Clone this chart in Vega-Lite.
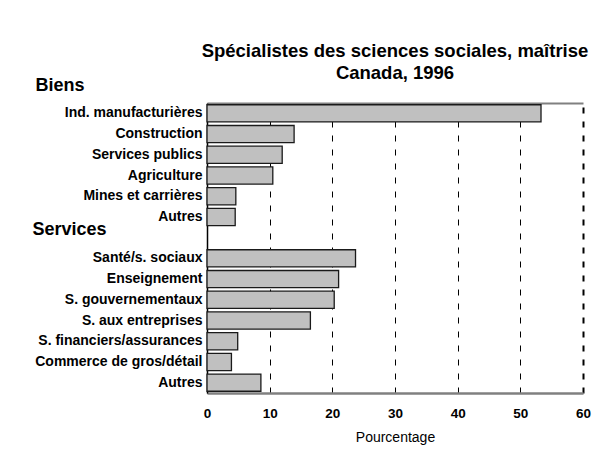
{
  "$schema": "https://vega.github.io/schema/vega-lite/v6.json",
  "autosize": "none",
  "padding": {"left": 207, "top": 103, "right": 17, "bottom": 64},
  "width": 376,
  "height": 290,
  "background": "white",
  "config": {
    "font": "Liberation Sans",
    "view": {"stroke": null}
  },
  "title": {
    "text": ["Spécialistes des sciences sociales, maîtrise", "Canada, 1996"],
    "font": "Liberation Sans",
    "fontSize": 18.5,
    "fontWeight": "bold",
    "color": "black",
    "anchor": "middle",
    "lineHeight": 22,
    "offset": -6
  },
  "data": {
    "values": [
      {"cat": "Ind. manufacturières", "pct": 53.3},
      {"cat": "Construction", "pct": 13.9},
      {"cat": "Services publics", "pct": 12.0},
      {"cat": "Agriculture", "pct": 10.5},
      {"cat": "Mines et carrières", "pct": 4.6},
      {"cat": "Autres (biens)", "pct": 4.5},
      {"cat": "Santé/s. sociaux", "pct": 23.7},
      {"cat": "Enseignement", "pct": 21.0},
      {"cat": "S. gouvernementaux", "pct": 20.3},
      {"cat": "S. aux entreprises", "pct": 16.5},
      {"cat": "S. financiers/assurances", "pct": 4.9},
      {"cat": "Commerce de gros/détail", "pct": 3.9},
      {"cat": "Autres (services)", "pct": 8.6}
    ]
  },
  "encoding": {
    "y": {
      "field": "cat",
      "type": "nominal",
      "scale": {
        "domain": ["Ind. manufacturières", "Construction", "Services publics", "Agriculture", "Mines et carrières", "Autres (biens)", "Services", "Santé/s. sociaux", "Enseignement", "S. gouvernementaux", "S. aux entreprises", "S. financiers/assurances", "Commerce de gros/détail", "Autres (services)"],
        "paddingInner": 0.17,
        "paddingOuter": 0.085
      },
      "axis": {
        "title": "Biens",
        "titleAngle": 0,
        "titleX": -172,
        "titleY": -18,
        "titleAlign": "left",
        "titleBaseline": "middle",
        "titleFontSize": 18,
        "titleFontWeight": "bold",
        "titleColor": "black",
        "titleFont": "Liberation Sans",
        "labelExpr": "datum.label == 'Autres (biens)' || datum.label == 'Autres (services)' ? 'Autres\u00a0' : (datum.label == 'Agriculture' || datum.label == 'Construction' || datum.label == 'Enseignement' ? datum.label + '\u00a0' : datum.label)",
        "labelFont": "Liberation Sans",
        "labelFontWeight": "bold",
        "labelColor": "black",
        "labelFontSize": {"condition": {"test": "datum.value == 'Services'", "value": 18}, "value": 14},
        "labelAlign": {"condition": {"test": "datum.value == 'Services'", "value": "left"}, "value": "right"},
        "labelPadding": {"condition": {"test": "datum.value == 'Services'", "value": 175}, "value": 5},
        "labelOffset": {"condition": {"test": "datum.value == 'Services'", "value": -8}, "value": 0},
        "labelBaseline": "middle",
        "labelLimit": 300,
        "ticks": false,
        "grid": false,
        "domainColor": "black",
        "domainWidth": 1.5
      }
    }
  },
  "layer": [
    {
      "mark": {"type": "bar", "fill": "#c0c0c0", "stroke": "#1a1a1a", "strokeWidth": 1.3},
      "encoding": {
        "x": {
          "field": "pct",
          "type": "quantitative",
          "scale": {"domain": [0, 60], "nice": false},
          "axis": {
            "orient": "bottom",
            "values": [0, 10, 20, 30, 40, 50, 60],
            "title": "Pourcentage",
            "titleFont": "Liberation Sans",
            "titleFontSize": 14,
            "titleFontWeight": "normal",
            "titleColor": "black",
            "titlePadding": 11,
            "labelFont": "Liberation Sans",
            "labelFontSize": 13.5,
            "labelFontWeight": "bold",
            "labelColor": "black",
            "labelPadding": 13,
            "labelFlush": false,
            "ticks": false,
            "domainColor": "#808080",
            "domainWidth": 2.5,
            "grid": true,
            "gridColor": "black",
            "gridDash": [6, 8],
            "gridOpacity": 1,
            "gridWidth": {"condition": {"test": "datum.value == 60", "value": 2}, "value": 1}
          }
        }
      }
    },
    {
      "mark": {"type": "bar", "opacity": 0},
      "encoding": {
        "x": {
          "field": "pct",
          "type": "quantitative",
          "axis": {
            "orient": "top",
            "labels": false,
            "ticks": false,
            "grid": false,
            "title": null,
            "domainColor": "#808080",
            "domainWidth": 2
          }
        }
      }
    }
  ],
  "resolve": {"axis": {"x": "independent"}}
}
